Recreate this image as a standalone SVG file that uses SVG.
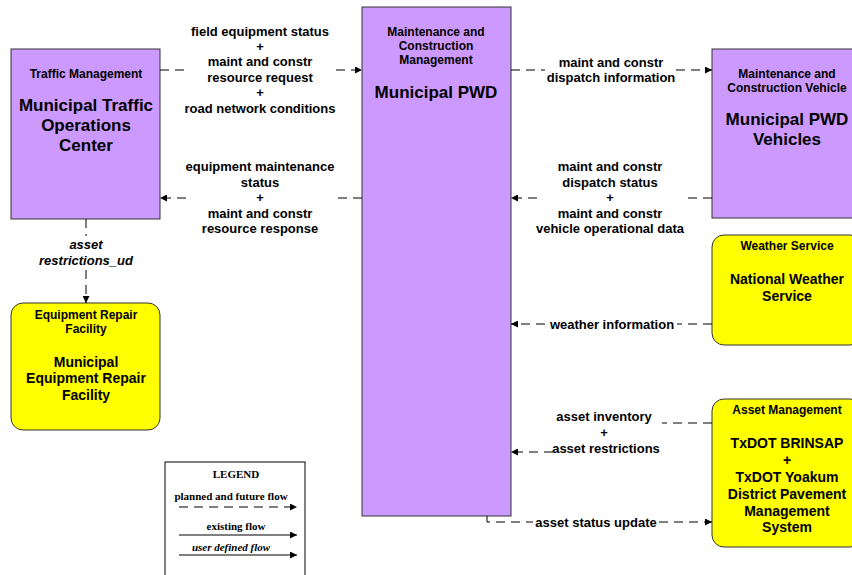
<svg xmlns="http://www.w3.org/2000/svg" width="852" height="575" viewBox="0 0 852 575">
<style>
.sub{fill:#CC99FF;stroke:#333;stroke-width:1}
.ter{fill:#FFFF00;stroke:#333;stroke-width:1}
.t{font-family:"Liberation Sans",Arial,sans-serif;font-weight:bold;fill:#000;text-anchor:middle}
.h{font-size:12px}
.n{font-size:17px}
.ny{font-size:14px}
.l{font-size:13px}
.it{font-style:italic}
.f{fill:none;stroke:#000;stroke-width:1;stroke-dasharray:9,6}
.s{fill:none;stroke:#000;stroke-width:1}
.lg{font-family:"Liberation Serif","Times New Roman",serif;font-weight:bold;font-size:11px;text-anchor:middle;fill:#000}
</style>
<defs>
<marker id="a" viewBox="0 0 10 10" refX="10" refY="5" markerWidth="8" markerHeight="7" markerUnits="userSpaceOnUse" orient="auto"><path d="M0,0 L10,5 L0,10 z" fill="#000"/></marker>
</defs>
<rect width="852" height="575" fill="#fff"/>

<g id="traffic-management">
<rect class="sub" x="11" y="49" width="149" height="170"/>
<text class="t h" x="86" y="78">Traffic Management</text>
<text class="t n" x="86" y="111">Municipal Traffic</text>
<text class="t n" x="86" y="131">Operations</text>
<text class="t n" x="86" y="151">Center</text>
</g>

<g id="municipal-pwd">
<rect class="sub" x="362" y="7" width="149" height="509"/>
<text class="t h" x="436" y="36">Maintenance and</text>
<text class="t h" x="436" y="50">Construction</text>
<text class="t h" x="436" y="64">Management</text>
<text class="t n" x="436" y="98">Municipal PWD</text>
</g>

<g id="pwd-vehicles">
<rect class="sub" x="712" y="49" width="150" height="169"/>
<text class="t h" x="787" y="78">Maintenance and</text>
<text class="t h" x="787" y="92">Construction Vehicle</text>
<text class="t n" x="787" y="125">Municipal PWD</text>
<text class="t n" x="787" y="145">Vehicles</text>
</g>

<g id="weather-service">
<rect class="ter" x="712" y="235" width="150" height="110" rx="12"/>
<text class="t h" x="787" y="250">Weather Service</text>
<text class="t ny" x="787" y="284">National Weather</text>
<text class="t ny" x="787" y="301">Service</text>
</g>

<g id="asset-management">
<rect class="ter" x="712" y="399" width="150" height="148" rx="12"/>
<text class="t h" x="787" y="414">Asset Management</text>
<text class="t ny" x="787" y="448">TxDOT BRINSAP</text>
<text class="t ny" x="787" y="465">+</text>
<text class="t ny" x="787" y="482">TxDOT Yoakum</text>
<text class="t ny" x="787" y="499">District Pavement</text>
<text class="t ny" x="787" y="516">Management</text>
<text class="t ny" x="787" y="532">System</text>
</g>

<g id="equipment-repair">
<rect class="ter" x="11" y="303" width="149" height="127" rx="12"/>
<text class="t h" x="86" y="319">Equipment Repair</text>
<text class="t h" x="86" y="333">Facility</text>
<text class="t ny" x="86" y="367">Municipal</text>
<text class="t ny" x="86" y="383">Equipment Repair</text>
<text class="t ny" x="86" y="400">Facility</text>
</g>

<g id="connectors">
<path class="f" d="M160,70 H186 M336,70 H362" marker-end="url(#a)"/>
<text class="t l" x="260" y="36">field equipment status</text>
<text class="t l" x="260" y="51">+</text>
<text class="t l" x="260" y="66">maint and constr</text>
<text class="t l" x="260" y="82">resource request</text>
<text class="t l" x="260" y="97">+</text>
<text class="t l" x="260" y="113">road network conditions</text>

<path class="f" d="M362,198 H338 M186,198 H160" marker-end="url(#a)"/>
<text class="t l" x="260" y="171">equipment maintenance</text>
<text class="t l" x="260" y="187">status</text>
<text class="t l" x="260" y="202">+</text>
<text class="t l" x="260" y="218">maint and constr</text>
<text class="t l" x="260" y="233">resource response</text>

<path class="f" d="M511,70 H545 M676,70 H712" marker-end="url(#a)"/>
<text class="t l" x="611" y="67">maint and constr</text>
<text class="t l" x="611" y="82">dispatch information</text>

<path class="f" d="M712,198 H688 M537,198 H511" marker-end="url(#a)"/>
<text class="t l" x="610" y="171">maint and constr</text>
<text class="t l" x="610" y="187">dispatch status</text>
<text class="t l" x="610" y="202">+</text>
<text class="t l" x="610" y="218">maint and constr</text>
<text class="t l" x="610" y="233">vehicle operational data</text>

<path class="f" d="M712,324 H677 M545,324 H511" marker-end="url(#a)"/>
<text class="t l" x="612" y="329">weather information</text>

<path class="f" d="M712,423 H662 M553,452 H511" marker-end="url(#a)"/>
<text class="t l" x="604" y="421">asset inventory</text>
<text class="t l" x="604" y="437">+</text>
<text class="t l" x="606" y="453">asset restrictions</text>

<path class="f" d="M487,516 V522 H533 M659,522 H712" marker-end="url(#a)"/>
<text class="t l" x="596" y="527">asset status update</text>

<path class="f" d="M86,219 V236 M86,270 V303" marker-end="url(#a)"/>
<text class="t l it" x="86" y="249">asset</text>
<text class="t l it" x="86" y="265">restrictions_ud</text>
</g>

<g id="legend">
<rect x="165" y="462" width="140" height="120" fill="#fff" stroke="#000" stroke-width="1"/>
<text class="lg" x="236" y="478">LEGEND</text>
<text class="lg" x="231" y="500">planned and future flow</text>
<path class="f" d="M179,507 H297" stroke-dasharray="4,3" marker-end="url(#a)"/>
<text class="lg" x="236" y="530">existing flow</text>
<path class="s" d="M179,535 H297" marker-end="url(#a)"/>
<text class="lg" x="231" y="551" font-style="italic">user defined flow</text>
<path class="s" d="M179,555 H297" marker-end="url(#a)"/>
</g>
</svg>
